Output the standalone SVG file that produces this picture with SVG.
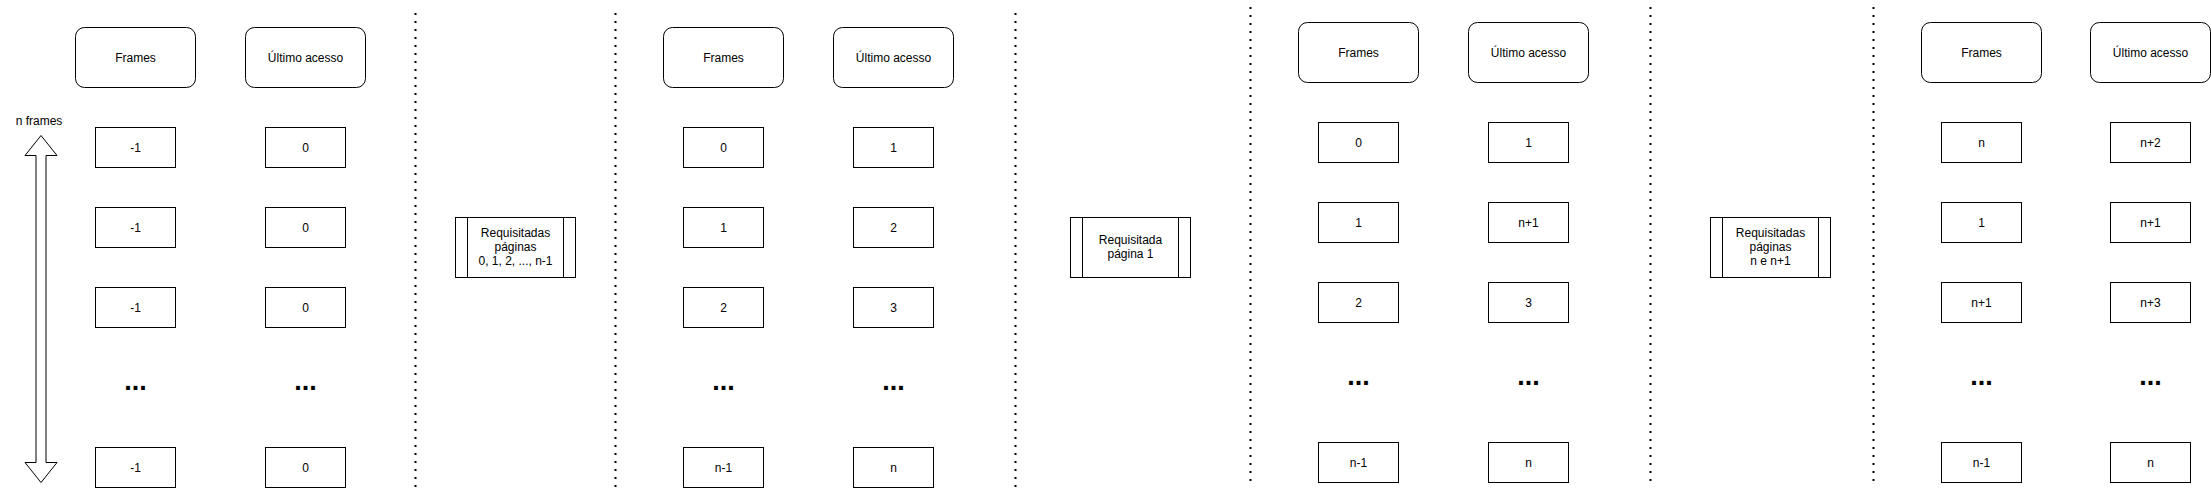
<svg xmlns="http://www.w3.org/2000/svg" width="2211" height="489" viewBox="0 0 2211 489">
  <style>
    .hdr { fill: #ffffff; stroke: #000000; stroke-width: 1; }
    .cell { fill: #ffffff; stroke: #000000; stroke-width: 1; }
    .proc { fill: #ffffff; stroke: #000000; stroke-width: 1; }
    .sep { stroke: #000000; stroke-width: 2; stroke-dasharray: 2 6; fill: none; }
    .t { font-family: "Liberation Sans", Arial, Helvetica, sans-serif; font-size: 12px; fill: #000000; text-anchor: middle; }
    .dots { font-family: "Liberation Sans", Arial, Helvetica, sans-serif; font-size: 27px; font-weight: bold; fill: #000000; text-anchor: middle; }
    .arrow { fill: #ffffff; stroke: #000000; stroke-width: 1; }
  </style>

  <g id="separators">
    <line class="sep" x1="415.5" y1="13" x2="415.5" y2="489"/>
    <line class="sep" x1="615.5" y1="13" x2="615.5" y2="489"/>
    <line class="sep" x1="1015.5" y1="13" x2="1015.5" y2="489"/>
    <line class="sep" x1="1250.5" y1="7" x2="1250.5" y2="483"/>
    <line class="sep" x1="1650.5" y1="7" x2="1650.5" y2="483"/>
    <line class="sep" x1="1873.5" y1="7" x2="1873.5" y2="483"/>
  </g>

  <g id="connectors">
    <g id="n-frames-arrow">
      <path class="arrow" d="M41,135.5 L57,155.5 L46,155.5 L46,462.5 L57,462.5 L41,482.5 L25,462.5 L36,462.5 L36,155.5 L25,155.5 Z"/>
    </g>
  </g>

  <g id="n-frames-label">
    <text class="t" x="39" y="125">n frames</text>
  </g>

  <!-- Panel 1 -->
  <g id="p1-frames-header"><rect class="hdr" x="75.5" y="27.5" width="120" height="60" rx="9"/><text class="t" x="135.5" y="61.5">Frames</text></g>
  <g id="p1-acesso-header"><rect class="hdr" x="245.5" y="27.5" width="120" height="60" rx="9"/><text class="t" x="305.5" y="61.5">Último acesso</text></g>
  <g id="p1-f1"><rect class="cell" x="95.5" y="127.5" width="80" height="40"/><text class="t" x="135.5" y="151.5">-1</text></g>
  <g id="p1-f2"><rect class="cell" x="95.5" y="207.5" width="80" height="40"/><text class="t" x="135.5" y="231.5">-1</text></g>
  <g id="p1-f3"><rect class="cell" x="95.5" y="287.5" width="80" height="40"/><text class="t" x="135.5" y="311.5">-1</text></g>
  <g id="p1-fdots"><text class="dots" x="135.5" y="390">...</text></g>
  <g id="p1-fn"><rect class="cell" x="95.5" y="447.5" width="80" height="40"/><text class="t" x="135.5" y="471.5">-1</text></g>
  <g id="p1-a1"><rect class="cell" x="265.5" y="127.5" width="80" height="40"/><text class="t" x="305.5" y="151.5">0</text></g>
  <g id="p1-a2"><rect class="cell" x="265.5" y="207.5" width="80" height="40"/><text class="t" x="305.5" y="231.5">0</text></g>
  <g id="p1-a3"><rect class="cell" x="265.5" y="287.5" width="80" height="40"/><text class="t" x="305.5" y="311.5">0</text></g>
  <g id="p1-adots"><text class="dots" x="305.5" y="390">...</text></g>
  <g id="p1-an"><rect class="cell" x="265.5" y="447.5" width="80" height="40"/><text class="t" x="305.5" y="471.5">0</text></g>

  <g id="step1">
    <rect class="proc" x="455.5" y="217.5" width="120" height="60"/>
    <line class="proc" x1="467.5" y1="217.5" x2="467.5" y2="277.5"/>
    <line class="proc" x1="563.5" y1="217.5" x2="563.5" y2="277.5"/>
    <text class="t" x="515.5" y="236.5">Requisitadas</text>
    <text class="t" x="515.5" y="250.5">páginas</text>
    <text class="t" x="515.5" y="264.5">0, 1, 2, ..., n-1</text>
  </g>

  <!-- Panel 2 -->
  <g id="p2-frames-header"><rect class="hdr" x="663.5" y="27.5" width="120" height="60" rx="9"/><text class="t" x="723.5" y="61.5">Frames</text></g>
  <g id="p2-acesso-header"><rect class="hdr" x="833.5" y="27.5" width="120" height="60" rx="9"/><text class="t" x="893.5" y="61.5">Último acesso</text></g>
  <g id="p2-f1"><rect class="cell" x="683.5" y="127.5" width="80" height="40"/><text class="t" x="723.5" y="151.5">0</text></g>
  <g id="p2-f2"><rect class="cell" x="683.5" y="207.5" width="80" height="40"/><text class="t" x="723.5" y="231.5">1</text></g>
  <g id="p2-f3"><rect class="cell" x="683.5" y="287.5" width="80" height="40"/><text class="t" x="723.5" y="311.5">2</text></g>
  <g id="p2-fdots"><text class="dots" x="723.5" y="390">...</text></g>
  <g id="p2-fn"><rect class="cell" x="683.5" y="447.5" width="80" height="40"/><text class="t" x="723.5" y="471.5">n-1</text></g>
  <g id="p2-a1"><rect class="cell" x="853.5" y="127.5" width="80" height="40"/><text class="t" x="893.5" y="151.5">1</text></g>
  <g id="p2-a2"><rect class="cell" x="853.5" y="207.5" width="80" height="40"/><text class="t" x="893.5" y="231.5">2</text></g>
  <g id="p2-a3"><rect class="cell" x="853.5" y="287.5" width="80" height="40"/><text class="t" x="893.5" y="311.5">3</text></g>
  <g id="p2-adots"><text class="dots" x="893.5" y="390">...</text></g>
  <g id="p2-an"><rect class="cell" x="853.5" y="447.5" width="80" height="40"/><text class="t" x="893.5" y="471.5">n</text></g>

  <g id="step2">
    <rect class="proc" x="1070.5" y="217.5" width="120" height="60"/>
    <line class="proc" x1="1082.5" y1="217.5" x2="1082.5" y2="277.5"/>
    <line class="proc" x1="1178.5" y1="217.5" x2="1178.5" y2="277.5"/>
    <text class="t" x="1130.5" y="243.5">Requisitada</text>
    <text class="t" x="1130.5" y="257.5">página 1</text>
  </g>

  <!-- Panel 3 -->
  <g id="p3-frames-header"><rect class="hdr" x="1298.5" y="22.5" width="120" height="60" rx="9"/><text class="t" x="1358.5" y="56.5">Frames</text></g>
  <g id="p3-acesso-header"><rect class="hdr" x="1468.5" y="22.5" width="120" height="60" rx="9"/><text class="t" x="1528.5" y="56.5">Último acesso</text></g>
  <g id="p3-f1"><rect class="cell" x="1318.5" y="122.5" width="80" height="40"/><text class="t" x="1358.5" y="146.5">0</text></g>
  <g id="p3-f2"><rect class="cell" x="1318.5" y="202.5" width="80" height="40"/><text class="t" x="1358.5" y="226.5">1</text></g>
  <g id="p3-f3"><rect class="cell" x="1318.5" y="282.5" width="80" height="40"/><text class="t" x="1358.5" y="306.5">2</text></g>
  <g id="p3-fdots"><text class="dots" x="1358.5" y="385">...</text></g>
  <g id="p3-fn"><rect class="cell" x="1318.5" y="442.5" width="80" height="40"/><text class="t" x="1358.5" y="466.5">n-1</text></g>
  <g id="p3-a1"><rect class="cell" x="1488.5" y="122.5" width="80" height="40"/><text class="t" x="1528.5" y="146.5">1</text></g>
  <g id="p3-a2"><rect class="cell" x="1488.5" y="202.5" width="80" height="40"/><text class="t" x="1528.5" y="226.5">n+1</text></g>
  <g id="p3-a3"><rect class="cell" x="1488.5" y="282.5" width="80" height="40"/><text class="t" x="1528.5" y="306.5">3</text></g>
  <g id="p3-adots"><text class="dots" x="1528.5" y="385">...</text></g>
  <g id="p3-an"><rect class="cell" x="1488.5" y="442.5" width="80" height="40"/><text class="t" x="1528.5" y="466.5">n</text></g>

  <g id="step3">
    <rect class="proc" x="1710.5" y="217.5" width="120" height="60"/>
    <line class="proc" x1="1722.5" y1="217.5" x2="1722.5" y2="277.5"/>
    <line class="proc" x1="1818.5" y1="217.5" x2="1818.5" y2="277.5"/>
    <text class="t" x="1770.5" y="236.5">Requisitadas</text>
    <text class="t" x="1770.5" y="250.5">páginas</text>
    <text class="t" x="1770.5" y="264.5">n e n+1</text>
  </g>

  <!-- Panel 4 -->
  <g id="p4-frames-header"><rect class="hdr" x="1921.5" y="22.5" width="120" height="60" rx="9"/><text class="t" x="1981.5" y="56.5">Frames</text></g>
  <g id="p4-acesso-header"><rect class="hdr" x="2090.5" y="22.5" width="120" height="60" rx="9"/><text class="t" x="2150.5" y="56.5">Último acesso</text></g>
  <g id="p4-f1"><rect class="cell" x="1941.5" y="122.5" width="80" height="40"/><text class="t" x="1981.5" y="146.5">n</text></g>
  <g id="p4-f2"><rect class="cell" x="1941.5" y="202.5" width="80" height="40"/><text class="t" x="1981.5" y="226.5">1</text></g>
  <g id="p4-f3"><rect class="cell" x="1941.5" y="282.5" width="80" height="40"/><text class="t" x="1981.5" y="306.5">n+1</text></g>
  <g id="p4-fdots"><text class="dots" x="1981.5" y="385">...</text></g>
  <g id="p4-fn"><rect class="cell" x="1941.5" y="442.5" width="80" height="40"/><text class="t" x="1981.5" y="466.5">n-1</text></g>
  <g id="p4-a1"><rect class="cell" x="2110.5" y="122.5" width="80" height="40"/><text class="t" x="2150.5" y="146.5">n+2</text></g>
  <g id="p4-a2"><rect class="cell" x="2110.5" y="202.5" width="80" height="40"/><text class="t" x="2150.5" y="226.5">n+1</text></g>
  <g id="p4-a3"><rect class="cell" x="2110.5" y="282.5" width="80" height="40"/><text class="t" x="2150.5" y="306.5">n+3</text></g>
  <g id="p4-adots"><text class="dots" x="2150.5" y="385">...</text></g>
  <g id="p4-an"><rect class="cell" x="2110.5" y="442.5" width="80" height="40"/><text class="t" x="2150.5" y="466.5">n</text></g>
</svg>
